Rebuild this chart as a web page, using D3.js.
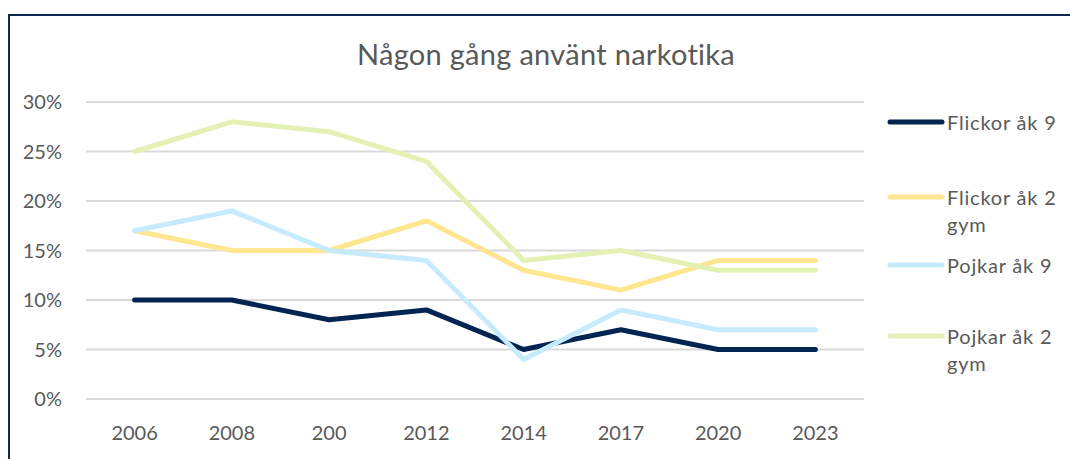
<!DOCTYPE html>
<html><head><meta charset="utf-8">
<script src="https://cdn.jsdelivr.net/npm/d3@7"></script>
<style>body{margin:0;background:#fff}svg{display:block}text{font-family:Lato,"Open Sans",sans-serif;fill:#595959}</style>
</head><body><svg id="c" width="1070" height="459"></svg>
<script>
const categories = ["2006","2008","200","2012","2014","2017","2020","2023"];
const seriesNames = ["Flickor åk 9","Flickor åk 2 gym","Pojkar åk 9","Pojkar åk 2 gym"];
const flickorAk9 = [10,10,8,9,5,7,5,5];
const flickorAk2gym = [17,15,15,18,13,11,14,14];
const pojkarAk9 = [17,19,15,14,4,9,7,7];
const pojkarAk2gym = [25,28,27,24,14,15,13,13];
const yTicks = [0,5,10,15,20,25,30];
const colors = ["#022450","#ffe691","#c6ebff","#e3f1b5"];
const legendLines = [["Flickor åk 9"],["Flickor åk 2","gym"],["Pojkar åk 9"],["Pojkar åk 2","gym"]];

const values = [flickorAk9, flickorAk2gym, pojkarAk9, pojkarAk2gym];
const svg = d3.select("#c");
svg.append("path").attr("d","M9,470 V15 H1080").attr("fill","none").attr("stroke","#0c2a4d").attr("stroke-width",2);

const x = d3.scalePoint().domain(categories).range([86,864]).padding(0.5);
const y = d3.scaleLinear().domain([0,30]).range([399,102]);

svg.append("g").selectAll("line").data(yTicks).join("line")
  .attr("x1",86).attr("x2",864).attr("y1",d=>y(d)).attr("y2",d=>y(d))
  .attr("stroke","#d9d9d9").attr("stroke-width",2);
svg.append("g").selectAll("text").data(yTicks).join("text")
  .attr("x",62).attr("y",d=>y(d)+7).attr("text-anchor","end").attr("font-size",20)
  .text(d=>d+"%");
svg.append("g").selectAll("text").data(categories).join("text")
  .attr("x",d=>x(d)).attr("y",440).attr("text-anchor","middle").attr("font-size",20).text(d=>d);

svg.append("text").attr("x",546).attr("y",65).attr("text-anchor","middle").attr("font-size",29).attr("letter-spacing",0.3).text("Någon gång använt narkotika");

const line = d3.line().x((d,i)=>x(categories[i])).y(d=>y(d));
values.forEach((v,k)=>{
  svg.append("path").attr("d",line(v)).attr("fill","none").attr("stroke",colors[k])
    .attr("stroke-width",5).attr("stroke-linecap","round").attr("stroke-linejoin","round");
});

const legY = [122,197,265,336];
legendLines.forEach((lines,k)=>{
  svg.append("line").attr("x1",890).attr("x2",942).attr("y1",legY[k]).attr("y2",legY[k])
    .attr("stroke",colors[k]).attr("stroke-width",5).attr("stroke-linecap","round");
  const t = svg.append("text").attr("x",947).attr("y",legY[k]+8).attr("font-size",20).attr("letter-spacing",0.8);
  lines.forEach((s,j)=>t.append("tspan").attr("x",947).attr("dy",j?27:0).text(s));
});
</script></body></html>
